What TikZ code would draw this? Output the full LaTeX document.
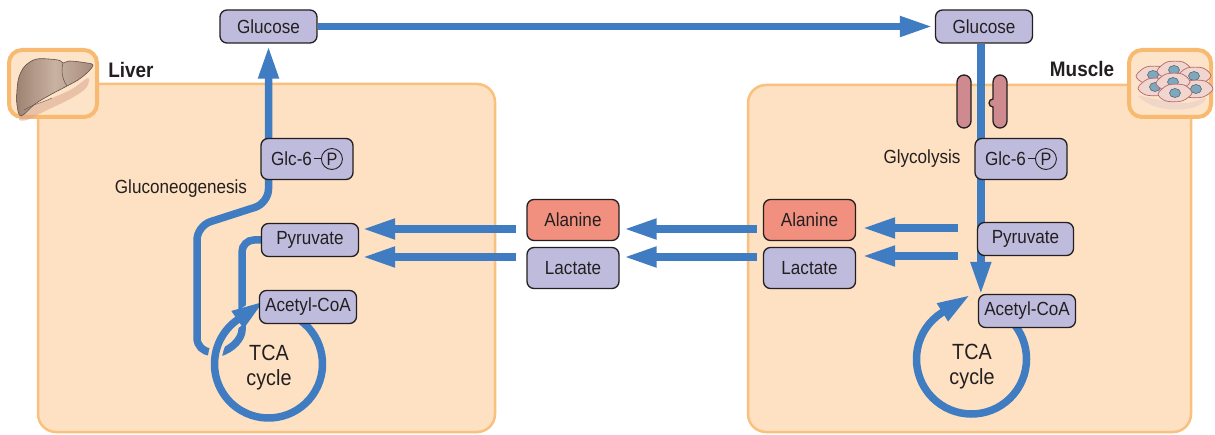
\documentclass[tikz,border=0pt]{standalone}
\usepackage{fontspec}
\setmainfont{Liberation Sans}[FakeStretch=0.9]
\usetikzlibrary{arrows.meta,calc}

\definecolor{peach}{HTML}{FDE1C2}
\definecolor{organline}{HTML}{F9C07E}
\definecolor{iconline}{HTML}{F8BA70}
\definecolor{iconfill}{HTML}{FDE4C8}
\definecolor{lav}{HTML}{BFBBDD}
\definecolor{salmon}{HTML}{F2907F}
\definecolor{flowblue}{HTML}{3F7CC1}
\definecolor{ink}{HTML}{231F20}
\definecolor{pillpink}{HTML}{CF8A8F}
\definecolor{liverdark}{HTML}{9E8372}
\definecolor{liverlight}{HTML}{C9B2A2}
\definecolor{livershadow}{HTML}{D9A58C}
\definecolor{cellfill}{HTML}{F0D6CE}
\definecolor{cellline}{HTML}{B5666C}
\definecolor{nucfill}{HTML}{7FA7BD}

\pgfdeclarelayer{back}
\pgfdeclarelayer{flowlayer}
\pgfsetlayers{back,flowlayer,main}

% circled phosphate group
\newcommand\phos[1]{\tikz[baseline=(#1.base)]\node[circle,draw=ink,line width=0.9pt,inner sep=0pt,minimum size=21pt,font=\fontsize{18}{20}\selectfont,text=ink] (#1) {P};}

\begin{document}
\begin{tikzpicture}[x=1pt,y=1pt,
  >={Triangle[length=33pt,width=19pt]},
  mol/.style={draw=ink, line width=1.3pt, rounded corners=7pt, fill=lav, inner sep=0pt,
              font=\fontsize{19}{22}\selectfont, text=ink},
  aa/.style={mol, fill=salmon},
  flow/.style={draw=flowblue, line width=7.5pt},
  halo/.style={draw=peach, line width=14pt},
  lbl/.style={font=\fontsize{19}{22}\selectfont, text=ink, inner sep=0pt},
  ttl/.style={font=\bfseries\fontsize{21}{24}\selectfont, text=ink, inner sep=0pt},
  tcalbl/.style={font=\fontsize{22}{25}\selectfont, align=center, text=ink, inner sep=0pt},
  organ/.style={draw=organline, line width=2.5pt, fill=peach, rounded corners=18pt},
  icon/.style={draw=iconline, line width=4pt, fill=iconfill, rounded corners=13pt},
  pill/.style={draw=ink, line width=1.3pt, fill=pillpink},
  cell/.style={draw=cellline, line width=0.7pt, fill=cellfill},
  nuc/.style={draw=ink!50!nucfill, line width=0.6pt, fill=nucfill}
]
\useasboundingbox (0,0) rectangle (1215,-435);

% ---------- organ compartments ----------
\begin{pgfonlayer}{back}
  \draw[organ] (38,-84) rectangle (495,-432);
  \draw[organ] (748,-85) rectangle (1191,-432);
\end{pgfonlayer}

% ---------- organ icons ----------
\draw[icon] (9,-50) rectangle (97,-117);
\draw[icon] (1129,-50) rectangle (1211,-117);

% liver
\fill[livershadow, opacity=0.55]
  plot[smooth cycle, tension=0.6] coordinates {(19,-119) (30,-108) (50,-99) (72,-89) (88,-78) (86,-88) (70,-99) (45,-111) (27,-120)};
\shade[left color=liverdark, right color=liverdark!80!liverlight, middle color=liverlight, draw=ink!50!liverdark, line width=0.6pt]
  plot[smooth cycle, tension=0.55] coordinates {(25,-66) (37,-59) (58,-60) (63,-63) (70,-61) (87,-63) (93,-65) (88,-72) (78,-80) (67,-86) (50,-95) (35,-104) (21,-116) (17,-105) (17,-90) (19,-77)};
\draw[ink!50!liverdark, line width=0.5pt] (63,-63) .. controls (61,-70) and (62,-79) .. (67,-86);
\draw[ink!50!liverdark, line width=0.4pt] (24,-110) .. controls (34,-104) and (44,-102) .. (52,-98);

% muscle cells
\fill[cellline!35!white, opacity=0.5]
  plot[smooth cycle, tension=0.7] coordinates {(1138,-96) (1160,-100) (1185,-103) (1206,-98) (1192,-108) (1160,-108)};
\foreach \nx/\ny in {1153/75, 1174/70, 1194/76, 1155/87, 1196/89, 1173/82, 1175/93} {
  \draw[cell] plot[smooth cycle, tension=0.5] coordinates
    {(\nx-17,-\ny-1) (\nx-7,-\ny+8) (\nx+9,-\ny+8) (\nx+17,-\ny) (\nx+7,-\ny-8) (\nx-9,-\ny-8)};
  \draw[nuc] (\nx,-\ny) ellipse[x radius=5.5, y radius=4.5];
}

\node[ttl] (liv) at (131,-70) {Liver};
\node[ttl] (mus) at (1082,-69) {Muscle};

% ---------- metabolites ----------
\node[mol, minimum width=97pt, minimum height=33pt] (GlcL) at (268.5,-26.5) {Glucose};
\node[mol, minimum width=97pt, minimum height=33pt] (GlcR) at (984,-26.5) {Glucose};
\node[mol, minimum width=92pt, minimum height=41pt] (G6L) at (307,-159) {Glc-6\hspace{2pt}\rule[6pt]{7pt}{1pt}\phos{pL}};
\node[mol, minimum width=92pt, minimum height=41pt] (G6R) at (1021,-159) {Glc-6\hspace{2pt}\rule[6pt]{7pt}{1pt}\phos{pR}};
\node[mol, minimum width=97pt, minimum height=33pt] (PyrL) at (310,-240) {Pyruvate};
\node[mol, minimum width=96pt, minimum height=33pt] (PyrR) at (1025.5,-239) {Pyruvate};
\node[mol, minimum width=97pt, minimum height=33pt] (AcL) at (308,-307) {Acetyl-CoA};
\node[mol, minimum width=97pt, minimum height=33pt] (AcR) at (1027,-311) {Acetyl-CoA};
\node[aa,  minimum width=92pt, minimum height=41pt] (AlaM) at (573,-220) {Alanine};
\node[mol, minimum width=92pt, minimum height=41pt] (LacM) at (573,-268) {Lactate};
\node[aa,  minimum width=92pt, minimum height=41pt] (AlaR) at (809.5,-220) {Alanine};
\node[mol, minimum width=92pt, minimum height=41pt] (LacR) at (809.5,-268) {Lactate};

\node[lbl] (gng) at (181,-189) {Gluconeogenesis};
\node[lbl] (gly) at (922,-159) {Glycolysis};
\node[tcalbl] (tcatxtL) at (269,-368) {TCA\\cycle};
\node[tcalbl] (tcatxtR) at (972,-367) {TCA\\cycle};

% glucose transporter in the muscle membrane
\draw[pill] (957,-82) -- (957,-121) arc[start angle=180,end angle=360,radius=7]
  -- (971,-82) arc[start angle=0,end angle=180,radius=7] -- cycle;
\draw[pill] (993,-82) -- (993,-99) arc[start angle=90,end angle=270,radius=4]
  -- (993,-121) arc[start angle=180,end angle=360,radius=7]
  -- (1007,-82) arc[start angle=0,end angle=180,radius=7] -- cycle;

% ---------- fluxes ----------
\coordinate (tcaL) at (268.5,-364);
\coordinate (tcaR) at (971.5,-359);
\coordinate (gngStart) at (210,-352);
\coordinate (pyrEnd) at (219,-353);
\coordinate (rdn) at ($(AcR.north west)+(3,-1)$);
\coordinate (aLS) at ($(AlaM.west)+(-10,-9)$);
\coordinate (lLS) at ($(LacM.west)+(-10,11)$);
\coordinate (aMS) at ($(AlaR.west)+(-6,-9)$);
\coordinate (lMS) at ($(LacR.west)+(-6,11)$);
\coordinate (aRS) at ($(PyrR.west)+(-19,11)$);
\coordinate (lRS) at ($(PyrR.west)+(-19,-17)$);

\begin{pgfonlayer}{flowlayer}
  % blood glucose from liver to muscle
  \draw[flow,->,shorten >=2pt] (GlcL.east) -- (GlcR.west);
  % gluconeogenesis
  \draw[flow,->,rounded corners=14pt,shorten >=2pt]
    (gngStart) -- (197,-352) -- (197,-226) -- (268.5,-203) -- (GlcL.south);
  % pyruvate into the TCA cycle (liver)
  \draw[flow,rounded corners=12pt] (PyrL.west) -- (242,-240) -- (242,-318)
    .. controls (242,-338) and (233,-349) .. (pyrEnd);
  % TCA cycle (liver)
  \draw[halo] ([shift={(60:54)}]tcaL) arc[start angle=60,end angle=-235,radius=54] -- ++(27.0,18.9);
  \draw[flow,->] ([shift={(60:54)}]tcaL) arc[start angle=60,end angle=-235,radius=54] -- ++(27.0,18.9);
  % glycolysis in muscle
  \draw[flow,->] (GlcR.south -| rdn) -- (rdn);
  % TCA cycle (muscle)
  \draw[flow,->] ([shift={(50:55)}]tcaR) arc[start angle=50,end angle=-238,radius=55] -- ++(28.0,17.5);
  % alanine and lactate return
  \draw[flow,->,shorten >=3pt] (aLS) -- (aLS -| PyrL.east);
  \draw[flow,->,shorten >=3pt] (lLS) -- (lLS -| PyrL.east);
  \draw[flow,->,shorten >=4pt] (aMS) -- (aMS -| AlaM.east);
  \draw[flow,->,shorten >=4pt] (lMS) -- (lMS -| LacM.east);
  \draw[flow,->,shorten >=6pt] (lRS) -- (lRS -| AlaR.east);
  \draw[flow,->,shorten >=6pt] (aRS) -- (aRS -| LacR.east);
\end{pgfonlayer}
\end{tikzpicture}
\end{document}
